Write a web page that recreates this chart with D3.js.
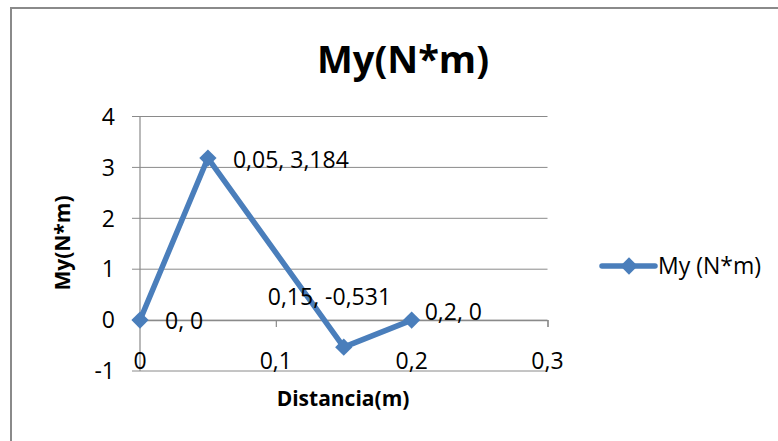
<!DOCTYPE html>
<html>
<head>
<meta charset="utf-8">
<script src="https://cdn.jsdelivr.net/npm/d3@7/dist/d3.min.js"></script>
<style>
  html, body { margin: 0; padding: 0; background: #fff; }
  svg { display: block; font-family: "Open Sans", "Noto Sans", sans-serif; }
</style>
</head>
<body>
<svg id="chart" width="778" height="441"></svg>
<script>
// Bending moment along the beam
const distances = [0, 0.05, 0.15, 0.2];
const moments = [0, 3.184, -0.531, 0];
const pointLabels = ["0, 0", "0,05, 3,184", "0,15, -0,531", "0,2, 0"];
const xTicks = [0, 0.1, 0.2, 0.3];
const xTickLabels = ["0", "0,1", "0,2", "0,3"];
const yTicks = [-1, 0, 1, 2, 3, 4];
const yTickLabels = ["-1", "0", "1", "2", "3", "4"];
const seriesName = "My (N*m)";
const chartTitle = "My(N*m)";
const xTitle = "Distancia(m)";
const yTitle = "My(N*m)";

// label placement around each marker (pixels)
const labelOffsets = [[25, 1], [25, 2], [-76, -50], [13, -8]];

const blue = "#4a7ebb";
const grid = "#8a8a8a";
const fs = 23;

const svg = d3.select("#chart");

const x = d3.scaleLinear().domain([0, 0.3]).range([140, 547.5]);
const y = d3.scaleLinear().domain([-1, 4]).range([371, 116.5]);

// chart area frame (top and left edges)
svg.append("path")
  .attr("d", "M11,441 V8 H778")
  .attr("fill", "none").attr("stroke", grid).attr("stroke-width", 2);

// horizontal gridlines with left tick stubs
svg.append("g").selectAll("line").data(yTicks).join("line")
  .attr("x1", x(0) - 8).attr("x2", x(0.3))
  .attr("y1", d => y(d)).attr("y2", d => y(d))
  .attr("stroke", grid).attr("stroke-width", 1);

// vertical axis line
svg.append("line")
  .attr("x1", x(0)).attr("x2", x(0))
  .attr("y1", y(4)).attr("y2", y(-1))
  .attr("stroke", grid).attr("stroke-width", 1.2);

// horizontal axis at y = 0 with tick marks
const xAxis = d3.axisBottom(x).tickValues(xTicks).tickSize(7).tickFormat("");
const gx = svg.append("g").attr("transform", `translate(0,${y(0)})`).call(xAxis);
gx.select(".domain").attr("stroke", grid).attr("stroke-width", 1.2);
gx.selectAll(".tick line").attr("stroke", grid).attr("stroke-width", 1.2);

// y tick labels
svg.append("g").selectAll("text").data(yTicks).join("text")
  .attr("x", 115).attr("y", d => y(d))
  .attr("dy", "0.36em")
  .attr("text-anchor", "end")
  .attr("font-size", fs).attr("fill", "#000")
  .text((d, i) => yTickLabels[i]);

// x tick labels, placed low beneath the plot
svg.append("g").selectAll("text").data(xTicks).join("text")
  .attr("x", d => x(d)).attr("y", 369)
  .attr("text-anchor", "middle")
  .attr("font-size", fs).attr("fill", "#000")
  .text((d, i) => xTickLabels[i]);

// series line
const pts = distances.map((d, i) => [d, moments[i]]);
svg.append("path")
  .datum(pts)
  .attr("d", d3.line().x(d => x(d[0])).y(d => y(d[1])))
  .attr("fill", "none").attr("stroke", blue)
  .attr("stroke-width", 5.5).attr("stroke-linejoin", "round");

// diamond markers
const diamond = d3.symbol().type(d3.symbolDiamond2).size(190);
svg.append("g").selectAll("path").data(pts).join("path")
  .attr("d", diamond)
  .attr("transform", d => `translate(${x(d[0])},${y(d[1])})`)
  .attr("fill", blue);

// data labels
svg.append("g").selectAll("text").data(pts).join("text")
  .attr("x", (d, i) => x(d[0]) + labelOffsets[i][0])
  .attr("y", (d, i) => y(d[1]) + labelOffsets[i][1])
  .attr("dy", "0.36em")
  .attr("font-size", fs).attr("fill", "#000")
  .text((d, i) => pointLabels[i]);

// titles
svg.append("text")
  .attr("x", 403).attr("y", 73)
  .attr("text-anchor", "middle")
  .attr("font-size", 38).attr("font-weight", "bold")
  .text(chartTitle);

svg.append("text")
  .attr("x", 343).attr("y", 406)
  .attr("text-anchor", "middle")
  .attr("font-size", 21).attr("font-weight", "bold")
  .text(xTitle);

svg.append("text")
  .attr("transform", "translate(70,243) rotate(-90)")
  .attr("text-anchor", "middle")
  .attr("font-size", 21).attr("font-weight", "bold")
  .text(yTitle);

// legend
const lg = svg.append("g").attr("transform", "translate(602,266)");
lg.append("line").attr("x1", 0).attr("x2", 53).attr("y1", 0).attr("y2", 0)
  .attr("stroke", blue).attr("stroke-width", 5.5).attr("stroke-linecap", "round");
lg.append("path").attr("d", diamond)
  .attr("transform", "translate(27,0)").attr("fill", blue);
lg.append("text").attr("x", 56).attr("y", 0).attr("dy", "0.36em")
  .attr("font-size", fs).attr("fill", "#000")
  .text(seriesName);
</script>
</body>
</html>
